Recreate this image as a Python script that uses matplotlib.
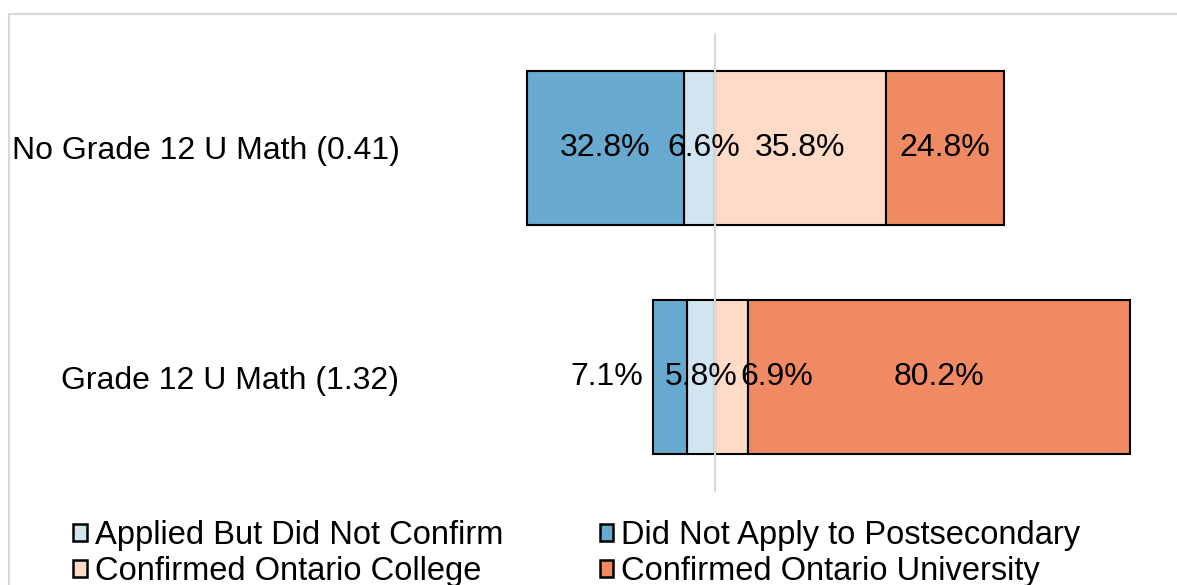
import matplotlib
matplotlib.use("Agg")
import matplotlib.pyplot as plt
import matplotlib.patches as mpatches

plt.rcParams["font.family"] = ["Liberation Sans", "DejaVu Sans"]

# ── data ──────────────────────────────────────────────────────────────────────
CATEGORIES = ["No Grade 12 U Math (0.41)", "Grade 12 U Math (1.32)"]

# left of centre (drawn outward from 0)
APPLIED_NO_CONFIRM = [6.6, 5.8]
DID_NOT_APPLY = [32.8, 7.1]
# right of centre
CONF_COLLEGE = [35.8, 6.9]
CONF_UNIVERSITY = [24.8, 80.2]

SERIES_NAMES = [
    "Applied But Did Not Confirm",
    "Did Not Apply to Postsecondary",
    "Confirmed Ontario College",
    "Confirmed Ontario University",
]

COL_DARK_BLUE = "#67A9CF"
COL_LIGHT_BLUE = "#D1E5F0"
COL_PEACH = "#FDDBC7"
COL_ORANGE = "#EF8A62"

W, H = 1177, 585
FS = 23
FS_LEG = 23.5

fig = plt.figure(figsize=(W / 100, H / 100), dpi=100)

# axes placed in pixel terms: centre line at x=715, 4.77 px per percent
px_per = 4.77
x_lo, x_hi = -65, 95
left_px = 715 + x_lo * px_per
right_px = 715 + x_hi * px_per
top_px, bot_px = 33, 492
ax = fig.add_axes([left_px / W, 1 - bot_px / H,
                   (right_px - left_px) / W, (bot_px - top_px) / H])

y = [1, 0]
h = 0.67
kw = dict(height=h, edgecolor="black", linewidth=1.5)

ax.barh(y, [-v for v in APPLIED_NO_CONFIRM], left=0,
        color=COL_LIGHT_BLUE, **kw)
ax.barh(y, [-v for v in DID_NOT_APPLY],
        left=[-v for v in APPLIED_NO_CONFIRM], color=COL_DARK_BLUE, **kw)
ax.barh(y, CONF_COLLEGE, left=0, color=COL_PEACH, **kw)
ax.barh(y, CONF_UNIVERSITY, left=CONF_COLLEGE, color=COL_ORANGE, **kw)

ax.axvline(0, color="#D9D9D9", lw=1.5, zorder=5)

# data labels at segment centres, with the shifts Excel gave crowded ones
nudge = {(0, 0): 1.0, (1, 1): -13.3, (1, 2): 9.4}   # (row, series) -> % shift
segments = [
    (APPLIED_NO_CONFIRM, lambda i: -APPLIED_NO_CONFIRM[i] / 2),
    (DID_NOT_APPLY, lambda i: -APPLIED_NO_CONFIRM[i] - DID_NOT_APPLY[i] / 2),
    (CONF_COLLEGE, lambda i: CONF_COLLEGE[i] / 2),
    (CONF_UNIVERSITY, lambda i: CONF_COLLEGE[i] + CONF_UNIVERSITY[i] / 2),
]
for s, (vals, centre) in enumerate(segments):
    for i, v in enumerate(vals):
        xpos = centre(i) + nudge.get((i, s), 0.0)
        ax.text(xpos, y[i], f"{v:.1f}%", ha="center", va="center",
                fontsize=FS, color="black", zorder=6)

ax.set_xlim(x_lo, x_hi)
ax.set_ylim(-0.5, 1.5)
ax.set_yticks(y)
ax.set_yticklabels(CATEGORIES, fontsize=FS)
ax.tick_params(axis="y", length=0, pad=4)
ax.set_xticks([])
for sp in ax.spines.values():
    sp.set_visible(False)

handles = [
    mpatches.Patch(facecolor=COL_LIGHT_BLUE, edgecolor="black", lw=1.8,
                   label=SERIES_NAMES[0]),
    mpatches.Patch(facecolor=COL_PEACH, edgecolor="black", lw=1.8,
                   label=SERIES_NAMES[2]),
    mpatches.Patch(facecolor=COL_DARK_BLUE, edgecolor="black", lw=1.8,
                   label=SERIES_NAMES[1]),
    mpatches.Patch(facecolor=COL_ORANGE, edgecolor="black", lw=1.8,
                   label=SERIES_NAMES[3]),
]
fig.legend(handles=handles, ncol=2, loc="upper left",
           bbox_to_anchor=(73 / W, 1 - 520 / H), frameon=False,
           fontsize=FS_LEG, handlelength=0.42, handleheight=0.42,
           handletextpad=0.25, columnspacing=2.95, labelspacing=0.16,
           borderpad=0, borderaxespad=0)

# light grey chart-area border (runs off the right and bottom edges)
fig.add_artist(mpatches.Rectangle((8.5 / W, -0.2), 2, 1.2 - 13.5 / H,
                                  transform=fig.transFigure, fill=False,
                                  edgecolor="#D9D9D9", lw=1.5))

fig.savefig("out.png", dpi=100)
